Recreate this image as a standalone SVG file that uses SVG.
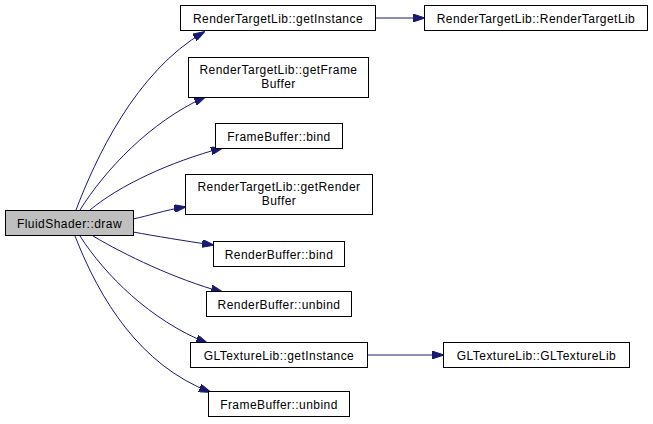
<svg xmlns="http://www.w3.org/2000/svg" width="653" height="424" viewBox="0 0 653 424">
<style>
.n rect{fill:#fff;stroke:#000;stroke-width:1}
.n.src rect{fill:#bfbfbf}
.n text{font-family:"Liberation Sans",Arial,sans-serif;font-size:12px;letter-spacing:0.45px;text-anchor:middle;fill:#000}
.e path{fill:none;stroke:#191970;stroke-width:1;marker-end:url(#ah)}
</style>
<defs>
<marker id="ah" viewBox="0 0 12 8" refX="11" refY="4" markerWidth="12" markerHeight="8" markerUnits="userSpaceOnUse" orient="auto">
<path d="M0,0 L12,4 L0,8 z" fill="#191970" stroke="#191970"/>
</marker>
</defs>
<rect width="653" height="424" fill="#fff"/>
<g id="edges" class="e">
<path d="M76,210 C95,160 135,72 204,32"/>
<path d="M80,210 C105,170 150,122 205,97"/>
<path d="M90,210 C120,185 170,162 222,148"/>
<path d="M133,219 C148,216 165,210 185,207"/>
<path d="M133,232 C155,236 185,241 213,245"/>
<path d="M93,236 C125,255 175,279 222,292"/>
<path d="M80,236 C105,275 150,320 207,343"/>
<path d="M75,236 C100,300 140,365 210,392"/>
<path d="M375,18 L424,18"/>
<path d="M367,355 L443,355"/>
</g>
<g id="n0" class="n src"><rect x="5.5" y="210.5" width="128" height="25"/><text x="69.5" y="227.5">FluidShader::draw</text></g>
<g id="n1" class="n"><rect x="180.5" y="5.5" width="195" height="25"/><text x="278" y="22.5">RenderTargetLib::getInstance</text></g>
<g id="n2" class="n"><rect x="188.5" y="57.5" width="180" height="40"/><text x="278.5" y="74">RenderTargetLib::getFrame</text><text x="278.5" y="88">Buffer</text></g>
<g id="n3" class="n"><rect x="215.5" y="123.5" width="127" height="25"/><text x="279" y="140.5">FrameBuffer::bind</text></g>
<g id="n4" class="n"><rect x="185.5" y="174.5" width="187" height="40"/><text x="279" y="191">RenderTargetLib::getRender</text><text x="279" y="205">Buffer</text></g>
<g id="n5" class="n"><rect x="213.5" y="241.5" width="131" height="25"/><text x="279" y="258.5">RenderBuffer::bind</text></g>
<g id="n6" class="n"><rect x="206.5" y="291.5" width="145" height="25"/><text x="279" y="308.5">RenderBuffer::unbind</text></g>
<g id="n7" class="n"><rect x="190.5" y="342.5" width="177" height="25"/><text x="279" y="359.5">GLTextureLib::getInstance</text></g>
<g id="n8" class="n"><rect x="208.5" y="391.5" width="141" height="25"/><text x="279" y="408.5">FrameBuffer::unbind</text></g>
<g id="n9" class="n"><rect x="424.5" y="5.5" width="223" height="25"/><text x="536" y="22.5">RenderTargetLib::RenderTargetLib</text></g>
<g id="n10" class="n"><rect x="443.5" y="342.5" width="186" height="25"/><text x="536.5" y="359.5">GLTextureLib::GLTextureLib</text></g>
</svg>
